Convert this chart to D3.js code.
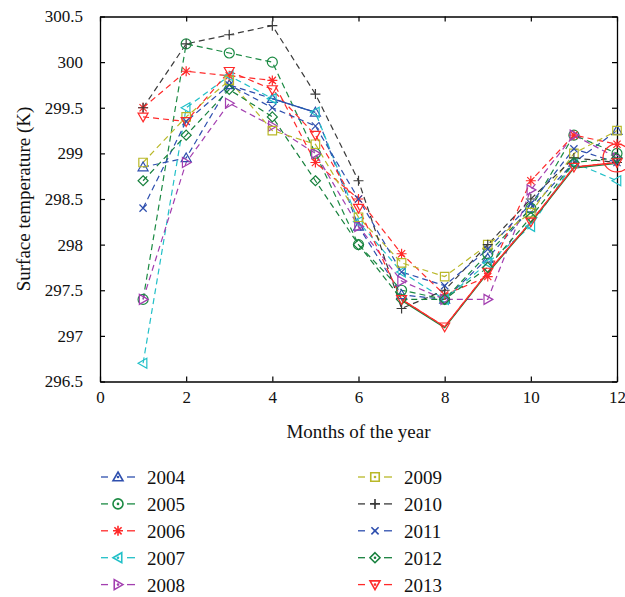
<!DOCTYPE html>
<html>
<head>
<meta charset="utf-8">
<script src="https://cdn.jsdelivr.net/npm/d3@7"></script>
<style>
  body { margin: 0; background: #fff; }
  svg { font-family: "Liberation Serif", "DejaVu Serif", serif; }
</style>
</head>
<body>
<svg id="chart" width="625" height="597"></svg>
<script>
var months = [1, 2, 3, 4, 5, 6, 7, 8, 9, 10, 11, 12];
var years = ["2004", "2005", "2006", "2007", "2008", "2009", "2010", "2011", "2012", "2013"];

var t2004 = [298.85, 298.95, 299.75, 299.6, 299.45, 298.2, 297.45, 297.4, 297.85, 298.4, 298.9, 299.25];
var t2005 = [297.4, 300.2, 300.1, 300.0, 299.0, 298.0, 297.5, 297.4, 297.9, 298.4, 299.2, 299.0];
var t2006 = [299.5, 299.9, 299.85, 299.8, 298.9, 298.5, 297.9, 297.45, 297.65, 298.7, 299.2, 299.1];
var t2007 = [296.7, 299.5, 299.85, 299.6, 299.45, 298.25, 297.7, 297.4, 297.8, 298.2, 298.9, 298.7];
var t2008 = [297.4, 298.9, 299.55, 299.3, 299.0, 298.2, 297.6, 297.4, 297.4, 298.6, 299.2, 298.95];
var t2009 = [298.9, 299.4, 299.8, 299.25, 299.1, 298.3, 297.8, 297.65, 298.0, 298.35, 299.0, 299.25];
var t2010 = [299.5, 300.2, 300.3, 300.4, 299.65, 298.7, 297.3, 297.5, 298.0, 298.5, 298.95, 298.9];
var t2011 = [298.4, 299.35, 299.75, 299.5, 299.3, 298.5, 297.7, 297.55, 297.95, 298.45, 299.05, 298.9];
var t2012 = [298.7, 299.2, 299.7, 299.4, 298.7, 298.0, 297.4, 297.4, 297.75, 298.3, 298.9, 298.95];
var t2013 = [299.4, 299.35, 299.9, 299.7, 299.2, 298.4, 297.4, 297.1, 297.7, 298.25, 298.85, 298.9];
var series = [t2004, t2005, t2006, t2007, t2008, t2009, t2010, t2011, t2012, t2013];

var xTicks = [0, 2, 4, 6, 8, 10, 12];
var yTicks = [296.5, 297, 297.5, 298, 298.5, 299, 299.5, 300, 300.5];

var colors = ["#2e4fae", "#1b8a43", "#ff2a2a", "#22c0c8", "#a33fb0", "#b9b828", "#3a3a3a", "#2e4fae", "#17803d", "#ff2a2a"];
var markers = ["up", "circle", "star", "left", "right", "square", "plus", "x", "diamond", "down"];

// circled point at December
var circledMonth = 12, circledTemp = 298.95;

var svg = d3.select("#chart");
var plotL = 100, plotR = 617, plotT = 16.5, plotB = 381.5;

var x = d3.scaleLinear().domain([0, 12]).range([plotL, plotR]);
var y = d3.scaleLinear().domain([296.5, 300.5]).range([plotB, plotT]);

function markerPath(type, r) {
    var p = d3.path();
    var k = r * 0.72;
    if (type === "up") { p.moveTo(0, -r); p.lineTo(r, r * 0.75); p.lineTo(-r, r * 0.75); p.closePath(); }
    else if (type === "down") { p.moveTo(0, r); p.lineTo(r, -r * 0.75); p.lineTo(-r, -r * 0.75); p.closePath(); }
    else if (type === "left") { p.moveTo(-r, 0); p.lineTo(r * 0.75, -r); p.lineTo(r * 0.75, r); p.closePath(); }
    else if (type === "right") { p.moveTo(r, 0); p.lineTo(-r * 0.75, -r); p.lineTo(-r * 0.75, r); p.closePath(); }
    else if (type === "circle") { p.moveTo(r, 0); p.arc(0, 0, r, 0, 2 * Math.PI); }
    else if (type === "square") { p.rect(-r * 0.85, -r * 0.85, r * 1.7, r * 1.7); }
    else if (type === "diamond") { p.moveTo(0, -r); p.lineTo(r, 0); p.lineTo(0, r); p.lineTo(-r, 0); p.closePath(); }
    else if (type === "plus") { p.moveTo(-r, 0); p.lineTo(r, 0); p.moveTo(0, -r); p.lineTo(0, r); }
    else if (type === "x") { p.moveTo(-k, -k); p.lineTo(k, k); p.moveTo(-k, k); p.lineTo(k, -k); }
    else if (type === "star") {
        p.moveTo(-r, 0); p.lineTo(r, 0); p.moveTo(0, -r); p.lineTo(0, r);
        p.moveTo(-k, -k); p.lineTo(k, k); p.moveTo(-k, k); p.lineTo(k, -k);
    }
    return p.toString();
}

// axes box with inward ticks
var fmt = function (d) { return d % 1 === 0 ? d3.format("d")(d) : d3.format(".1f")(d); };

svg.append("g").attr("transform", "translate(0," + plotB + ")")
    .call(d3.axisBottom(x).tickValues(xTicks).tickSizeInner(-5).tickSizeOuter(0).tickPadding(9));
svg.append("g").attr("transform", "translate(0," + plotT + ")")
    .call(d3.axisTop(x).tickValues(xTicks).tickSizeInner(-5).tickSizeOuter(0).tickFormat(""));
svg.append("g").attr("transform", "translate(" + plotL + ",0)")
    .call(d3.axisLeft(y).tickValues(yTicks).tickSizeInner(-5).tickSizeOuter(0).tickPadding(17).tickFormat(fmt));
svg.append("g").attr("transform", "translate(" + plotR + ",0)")
    .call(d3.axisRight(y).tickValues(yTicks).tickSizeInner(-5).tickSizeOuter(0).tickFormat(""));

svg.selectAll(".domain").style("stroke", "#000").style("stroke-width", 1.3);
svg.selectAll(".tick line").style("stroke", "#000").style("stroke-width", 1.2);
svg.selectAll(".tick text").style("font-family", "Liberation Serif, serif").style("font-size", "17px").style("fill", "#111");

svg.append("text").text("Months of the year")
    .attr("x", (plotL + plotR) / 2).attr("y", 438)
    .style("text-anchor", "middle").style("font-size", "19px").style("fill", "#111");
svg.append("text").text("Surface temperature (K)")
    .attr("transform", "translate(30," + ((plotT + plotB) / 2) + ") rotate(-90)")
    .style("text-anchor", "middle").style("font-size", "19px").style("fill", "#111");

// series lines
var line = d3.line().x(function (d, i) { return x(months[i]); }).y(function (d) { return y(d); });

series.forEach(function (vals, s) {
    svg.append("path").datum(vals)
        .attr("d", line)
        .style("fill", "none").style("stroke", colors[s]).style("stroke-width", 1.2)
        .style("stroke-dasharray", "6,4");
});

// solid highlighted stretches seen in the figure
svg.append("path").datum(t2004.slice(3, 5))
    .attr("d", d3.line().x(function (d, i) { return x(months[i + 3]); }).y(function (d) { return y(d); }))
    .style("fill", "none").style("stroke", colors[0]).style("stroke-width", 1.3);
svg.append("path").datum(t2013.slice(6))
    .attr("d", d3.line().x(function (d, i) { return x(months[i + 6]); }).y(function (d) { return y(d) + 1; }))
    .style("fill", "none").style("stroke", colors[8]).style("stroke-width", 1.2);
svg.append("path").datum(t2013.slice(6))
    .attr("d", d3.line().x(function (d, i) { return x(months[i + 6]); }).y(function (d) { return y(d); }))
    .style("fill", "none").style("stroke", colors[9]).style("stroke-width", 1.3);

// markers
series.forEach(function (vals, s) {
    svg.append("g").selectAll("path").data(vals).enter().append("path")
        .attr("transform", function (d, i) { return "translate(" + x(months[i]) + "," + y(d) + ")"; })
        .attr("d", markerPath(markers[s], 5))
        .style("fill", "none").style("stroke", colors[s]).style("stroke-width", 1.2);
});

// red annotation circle
svg.append("circle").attr("cx", x(circledMonth)).attr("cy", y(circledTemp)).attr("r", 14)
    .style("fill", "none").style("stroke", "#ff2a2a").style("stroke-width", 1.2);

// legend, two columns of five
var legend = svg.append("g");
var rowY = 477, rowGap = 26.9;
years.forEach(function (yr, s) {
    var col = Math.floor(s / 5), row = s % 5;
    var lx = col === 0 ? 101 : 358;
    var cy = rowY + row * rowGap;
    var g = legend.append("g").attr("transform", "translate(" + lx + "," + cy + ")");
    g.append("line").attr("x1", 0).attr("x2", 7).attr("y1", 0).attr("y2", 0)
        .style("stroke", colors[s]).style("stroke-width", 1.3);
    g.append("line").attr("x1", 26).attr("x2", 34).attr("y1", 0).attr("y2", 0)
        .style("stroke", colors[s]).style("stroke-width", 1.3);
    g.append("path").attr("transform", "translate(17,0)").attr("d", markerPath(markers[s], 5))
        .style("fill", "none").style("stroke", colors[s]).style("stroke-width", 1.6);
    g.append("circle").attr("cx", 17).attr("cy", 0).attr("r", 1.3).style("fill", colors[s]);
    g.append("text").text(yr).attr("x", 46).attr("y", 7)
        .style("font-size", "19px").style("fill", "#111");
});
</script>
</body>
</html>
